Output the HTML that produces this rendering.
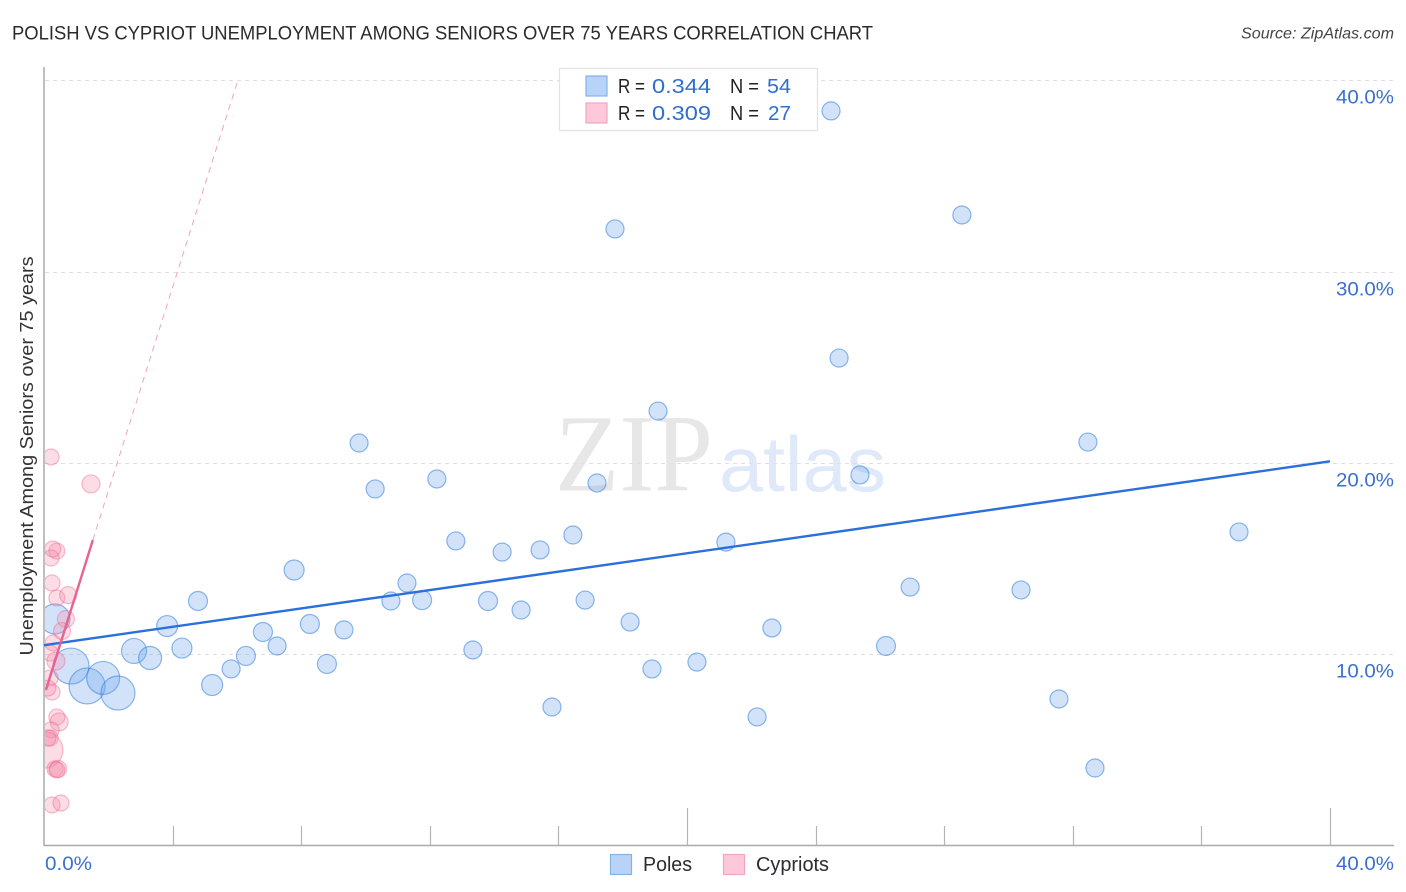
<!DOCTYPE html>
<html lang="en">
<head>
<meta charset="utf-8">
<title>Polish vs Cypriot Unemployment Among Seniors Over 75 Years Correlation Chart</title>
<style>
html,body{margin:0;padding:0;background:#fff;}
body{width:1406px;height:892px;overflow:hidden;}
svg{display:block;font-family:"Liberation Sans",sans-serif;}
</style>
</head>
<body>
<svg id="chart" width="1406" height="892" viewBox="0 0 1406 892" xmlns="http://www.w3.org/2000/svg">
  <defs>
    <clipPath id="plot-clip"><rect x="45" y="60" width="1349" height="785"/></clipPath>
  </defs>
  <rect x="0" y="0" width="1406" height="892" fill="#ffffff"/>
  <text x="12" y="39.5" font-size="19.5" fill="#2b2b2b" textLength="861" lengthAdjust="spacingAndGlyphs">POLISH VS CYPRIOT UNEMPLOYMENT AMONG SENIORS OVER 75 YEARS CORRELATION CHART</text>
  <text x="1394" y="38.5" font-size="16" font-style="italic" fill="#444" text-anchor="end" textLength="153" lengthAdjust="spacingAndGlyphs">Source: ZipAtlas.com</text>

  <g>
    <text x="555" y="490.5" font-family="'Liberation Serif',serif" font-size="110" fill="#e7e7e7" textLength="158" lengthAdjust="spacingAndGlyphs">ZIP</text>
    <text x="719" y="491" font-size="78" fill="#dfe9f9" textLength="167" lengthAdjust="spacingAndGlyphs">atlas</text>
  </g>

  <g id="grid"></g>
  <g id="axes"></g>
  <g id="pole-points" clip-path="url(#plot-clip)"></g>
  <g id="cypriot-points" clip-path="url(#plot-clip)"></g>
  <g id="trends"></g>

  <text transform="translate(33,456) rotate(-90)" font-size="18.5" fill="#333" text-anchor="middle" textLength="399" lengthAdjust="spacingAndGlyphs">Unemployment Among Seniors over 75 years</text>

  <g>
    <rect x="559.5" y="68.5" width="258" height="62" fill="#ffffff" stroke="#e2e2e2" stroke-width="1.2"/>
    <rect x="586" y="76" width="21" height="20" fill="#b7d3f7" stroke="#86b2ea" stroke-width="1.2"/>
    <rect x="586" y="103" width="21" height="20" fill="#fcc8da" stroke="#f3a5bf" stroke-width="1.2"/>
    <g font-size="20">
      <text x="618" y="93" fill="#222" textLength="27" lengthAdjust="spacingAndGlyphs">R =</text>
      <text x="652" y="93" fill="#2f6fd0" textLength="59" lengthAdjust="spacingAndGlyphs">0.344</text>
      <text x="730" y="93" fill="#222" textLength="29" lengthAdjust="spacingAndGlyphs">N =</text>
      <text x="767" y="93" fill="#2f6fd0" textLength="24" lengthAdjust="spacingAndGlyphs">54</text>
      <text x="618" y="120" fill="#222" textLength="27" lengthAdjust="spacingAndGlyphs">R =</text>
      <text x="652" y="120" fill="#2f6fd0" textLength="59" lengthAdjust="spacingAndGlyphs">0.309</text>
      <text x="730" y="120" fill="#222" textLength="29" lengthAdjust="spacingAndGlyphs">N =</text>
      <text x="768" y="120" fill="#2f6fd0" textLength="23" lengthAdjust="spacingAndGlyphs">27</text>
    </g>
  </g>

  <g>
    <rect x="610.5" y="854.5" width="21" height="20" fill="#b7d3f7" stroke="#86b2ea" stroke-width="1.2"/>
    <text x="643" y="871" font-size="20" fill="#2b2b33" textLength="49" lengthAdjust="spacingAndGlyphs">Poles</text>
    <rect x="723.5" y="854.5" width="21" height="20" fill="#fcc8da" stroke="#f3a5bf" stroke-width="1.2"/>
    <text x="756" y="871" font-size="20" fill="#2b2b33" textLength="73" lengthAdjust="spacingAndGlyphs">Cypriots</text>
  </g>
</svg>

<script>
var yTickValues = [10, 20, 30, 40];
var yTickLabels = ['10.0%', '20.0%', '30.0%', '40.0%'];
var xTickValues = [0, 4, 8, 12, 16, 20, 24, 28, 32, 36, 40];
var xEdgeLabels = ['0.0%', '40.0%'];

var poleX = [24.48,17.76,28.55,24.73,19.10,9.80,32.47,12.22,10.30,17.20,25.38,37.17,12.81,16.45,21.21,14.25,15.43,7.78,11.29,26.94,30.39,4.79,10.79,11.76,13.81,16.83,14.84,18.23,8.27,9.33,22.64,3.83,6.81,0.34,7.25,4.29,26.19,13.34,2.80,3.30,6.28,8.80,20.31,18.91,5.82,5.23,31.57,15.80,22.18,32.69,0.84,1.34,1.84,2.30];
var poleY = [38.40,32.23,32.96,25.48,22.71,21.04,21.09,19.16,18.64,18.95,19.37,16.39,15.92,16.23,15.86,15.34,15.45,14.40,13.72,13.51,13.36,12.78,12.78,12.83,12.78,12.83,12.31,11.68,11.58,11.27,11.37,11.47,11.16,11.84,10.43,10.32,10.43,10.22,10.17,9.80,9.91,9.49,9.59,9.23,9.23,8.39,7.66,7.24,6.72,4.05,9.38,8.34,8.76,7.97];
var poleSize = [9,9,9,9,9,9,9,9,9,9,9,9,9,9,9,9,9,10,9,9,9,9.5,9,9.5,9.5,9,9,9,9.5,9,9,10.5,9.5,15,9,10,9.5,9,12.5,11.5,9.5,9.5,9,9,9,10.5,9,9,9,9,18,18,16.5,17];

var cypriotX = [0.22,1.46,0.40,0.22,0.27,0.25,0.40,0.75,0.68,0.56,0.28,0.19,0.37,0.19,0.25,0.12,0.40,0.47,0.22,0.19,0.03,0.12,0.34,0.44,0.40,0.25,0.53];
var cypriotY = [20.31,18.90,15.39,15.03,15.50,13.72,12.94,13.09,11.84,11.21,10.59,10.06,9.64,8.76,8.02,8.23,6.72,6.46,6.04,5.62,4.99,5.62,4.00,4.00,3.95,2.12,2.22];
var cypriotSize = [8,9,8,8,8,8,8,8.5,8.5,8.5,8,8,9,8,8,8,8,9,8,8,18,8,8,8.5,8,8,8];

var poleTrendX = [0, 40];
var poleTrendY = [10.47, 20.08];
var cypriotSolidX = [0.06, 1.52];
var cypriotSolidY = [8.13, 15.97];
var cypriotDashX = [1.52, 6.03];
var cypriotDashY = [15.97, 40];

function xScale(v) { return 44 + v * 32.15; }
function yScale(v) { return 845.5 - v * 19.13; }

var NS = 'http://www.w3.org/2000/svg';
function make(parent, tag, attrs, text) {
  var el = document.createElementNS(NS, tag);
  for (var k in attrs) { el.setAttribute(k, attrs[k]); }
  if (text !== undefined) { el.textContent = text; }
  parent.appendChild(el);
  return el;
}

var grid = document.getElementById('grid');
yTickValues.forEach(function (v, i) {
  var y = Math.round(yScale(v)) + 0.5;
  var line = make(grid, 'line', {x1: 45, x2: 1394, y1: y, y2: y, stroke: '#e0e0e0', 'stroke-width': 1, 'stroke-dasharray': '4 4'});
  
  
  var label = make(grid, 'text', {x: 1394, y: y + 23, 'font-size': 19.5, fill: '#3a70cc', 'text-anchor': 'end', textLength: 58, lengthAdjust: 'spacingAndGlyphs'}, yTickLabels[i]);
  
  
});

var axes = document.getElementById('axes');
var yAxis = make(axes, 'line', {x1: 44, x2: 44, y1: 67, y2: 846, stroke: '#aaaaaa', 'stroke-width': 1.5});


var xAxis = make(axes, 'line', {x1: 44, x2: 1394, y1: 845.5, y2: 845.5, stroke: '#aaaaaa', 'stroke-width': 1.5});


xTickValues.forEach(function (v) {
  if (v === 0) { return; }
  var x = Math.round(xScale(v)) + 0.5;
  var top = (v % 20 === 0) ? 808 : 826;
  var tick = make(axes, 'line', {x1: x, x2: x, y1: top, y2: 845.5, stroke: '#b4b4b4', 'stroke-width': 1.2});
  
  
});
var xLabelLeft = make(axes, 'text', {x: 45, y: 870, 'font-size': 19.5, fill: '#3a70cc', textLength: 47, lengthAdjust: 'spacingAndGlyphs'}, xEdgeLabels[0]);


var xLabelRight = make(axes, 'text', {x: 1394, y: 870, 'font-size': 19.5, fill: '#3a70cc', 'text-anchor': 'end', textLength: 58, lengthAdjust: 'spacingAndGlyphs'}, xEdgeLabels[1]);



var poleGroup = document.getElementById('pole-points');
poleX.forEach(function (v, i) {
  var c = make(poleGroup, 'circle', {cx: xScale(v), cy: yScale(poleY[i]), r: poleSize[i], fill: 'rgba(106,163,236,0.3)', stroke: 'rgba(50,125,220,0.55)', 'stroke-width': 1.2});
  
  
});

var cypriotGroup = document.getElementById('cypriot-points');
cypriotX.forEach(function (v, i) {
  var c = make(cypriotGroup, 'circle', {cx: xScale(v), cy: yScale(cypriotY[i]), r: cypriotSize[i], fill: 'rgba(244,138,170,0.3)', stroke: 'rgba(236,100,145,0.42)', 'stroke-width': 1.2});
  
  
});

var trends = document.getElementById('trends');
var poleTrend = make(trends, 'line', {x1: xScale(poleTrendX[0]), y1: yScale(poleTrendY[0]), x2: xScale(poleTrendX[1]), y2: yScale(poleTrendY[1]), stroke: '#2a6fdb', 'stroke-width': 2.4});


var cypriotSolid = make(trends, 'line', {x1: xScale(cypriotSolidX[0]), y1: yScale(cypriotSolidY[0]), x2: xScale(cypriotSolidX[1]), y2: yScale(cypriotSolidY[1]), stroke: '#e8638f', 'stroke-width': 2.4});


var cypriotDash = make(trends, 'line', {x1: xScale(cypriotDashX[0]), y1: yScale(cypriotDashY[0]), x2: xScale(cypriotDashX[1]), y2: yScale(cypriotDashY[1]), stroke: '#f0a3bc', 'stroke-width': 1, 'stroke-dasharray': '6 5'});


</script>
</body>
</html>
